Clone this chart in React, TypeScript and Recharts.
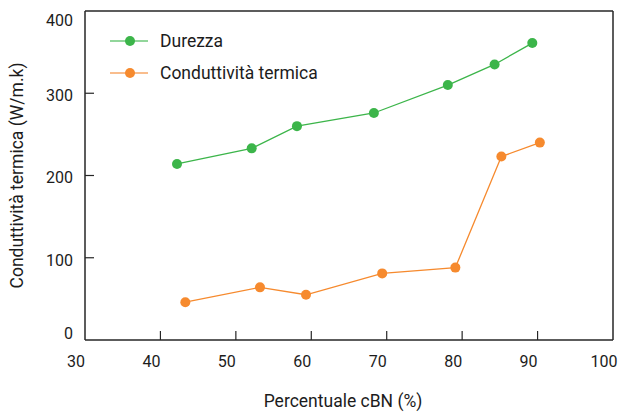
import React from 'react';
import { LineChart, Line, XAxis, YAxis } from 'recharts';

// cBN percentage vs. hardness / thermal conductivity
const xTicks = [30, 40, 50, 60, 70, 80, 90, 100];
const yTicks = [0, 100, 200, 300, 400];
const rightTicks = [1, 2, 3, 4];

const percDurezza = [42.2, 52.1, 58.1, 68.3, 78.1, 84.3, 89.3];
const durezza = [214, 233, 260, 276, 310, 335, 361];

const percConduttivita = [43.3, 53.2, 59.3, 69.4, 79.1, 85.2, 90.3];
const conduttivita = [46, 64, 55, 81, 88, 223, 240];

const GREEN = '#3cb54a';
const ORANGE = '#f68a2e';
const AXIS = '#262626';
const TEXT = '#1c1c1c';
const FONT = 'Roboto, "DejaVu Sans", sans-serif';

const durezzaData = percDurezza.map((x, i) => ({ x, y: durezza[i] }));
const condData = percConduttivita.map((x, i) => ({ x, y: conduttivita[i] }));

const legendItems = [
    { name: 'Durezza', color: GREEN, light: '#92d69b' },
    { name: 'Conduttività termica', color: ORANGE, light: '#f9bd8d' },
];

const BottomTick = (props: any) => {
    const { x, y, payload } = props;
    const v = payload.value;
    return (
        <g>
            {v > 30 && v < 100 && <line x1={x} x2={x} y1={y} y2={y - 9} stroke={AXIS} strokeWidth={1.2} />}
            <text x={x - 9} y={y + 27} textAnchor="middle" fill={TEXT} fontSize={16} fontFamily={FONT}>
                {v}
            </text>
        </g>
    );
};

const LeftTick = (props: any) => {
    const { x, y, payload } = props;
    const v = payload.value;
    let dy = 2;
    if (v === 400) dy = 9;
    if (v === 0) dy = -7;
    return (
        <g>
            {v > 0 && v < 400 && <line x1={x} x2={x + 9} y1={y} y2={y} stroke={AXIS} strokeWidth={1.2} />}
            <text x={x - 12} y={y + dy} dy="0.36em" textAnchor="end" fill={TEXT} fontSize={16} fontFamily={FONT}>
                {v}
            </text>
        </g>
    );
};

const RightTick = (props: any) => {
    const { x, y } = props;
    return <line x1={x} x2={x - 9} y1={y} y2={y} stroke={AXIS} strokeWidth={1.2} />;
};

const LegendBox = () => (
    <div style={{ position: 'absolute', left: 110, top: 25, fontFamily: FONT, fontSize: 17.5, color: TEXT }}>
        {legendItems.map((it) => (
            <div key={it.name} style={{ display: 'flex', alignItems: 'center', height: 32 }}>
                <svg width={38} height={12} style={{ display: 'block' }}>
                    <line x1={0} x2={38} y1={6} y2={6} stroke={it.light} strokeWidth={2} />
                    <circle cx={20} cy={6} r={5} fill={it.color} />
                </svg>
                <span style={{ marginLeft: 12 }}>{it.name}</span>
            </div>
        ))}
    </div>
);

export default function App() {
    return (
        <div style={{ position: 'absolute', left: 0, top: 0, width: 619, height: 412, background: '#fff' }}>
            <LineChart width={619} height={412} margin={{ top: 10, right: 5, left: 0, bottom: 0 }}>
                <XAxis
                    xAxisId="bottom"
                    dataKey="x"
                    type="number"
                    domain={[30, 100]}
                    ticks={xTicks}
                    interval={0}
                    height={72}
                    tickSize={0}
                    tickMargin={0}
                    tickLine={false}
                    axisLine={{ stroke: AXIS, strokeWidth: 1.5 }}
                    tick={<BottomTick />}
                    label={{ value: 'Percentuale cBN (%)', position: 'insideBottom', offset: 5, dx: -6, fill: TEXT, fontSize: 17.5, fontFamily: FONT }}
                />
                <XAxis
                    xAxisId="top"
                    orientation="top"
                    dataKey="x"
                    type="number"
                    domain={[30, 100]}
                    height={1}
                    tick={false}
                    tickLine={false}
                    axisLine={{ stroke: AXIS, strokeWidth: 1.5 }}
                />
                <YAxis
                    yAxisId="left"
                    domain={[0, 400]}
                    ticks={yTicks}
                    interval={0}
                    width={85}
                    tickSize={0}
                    tickMargin={0}
                    tickLine={false}
                    axisLine={{ stroke: AXIS, strokeWidth: 1.5 }}
                    tick={<LeftTick />}
                    label={{
                        value: 'Conduttività termica (W/m.k)',
                        angle: -90,
                        position: 'insideLeft',
                        offset: 17,
                        fill: TEXT,
                        fontSize: 17.5,
                        fontFamily: FONT,
                        style: { textAnchor: 'middle' },
                    }}
                />
                <YAxis
                    yAxisId="right"
                    orientation="right"
                    domain={[0, 5]}
                    ticks={rightTicks}
                    interval={0}
                    width={1}
                    tickSize={0}
                    tickMargin={0}
                    tickLine={false}
                    axisLine={{ stroke: AXIS, strokeWidth: 1.5 }}
                    tick={<RightTick />}
                />
                <Line
                    xAxisId="bottom"
                    yAxisId="left"
                    data={durezzaData}
                    dataKey="y"
                    name="Durezza"
                    stroke={GREEN}
                    strokeWidth={1.3}
                    dot={{ r: 5, fill: GREEN, stroke: GREEN, strokeWidth: 0 }}
                    isAnimationActive={false}
                />
                <Line
                    xAxisId="bottom"
                    yAxisId="left"
                    data={condData}
                    dataKey="y"
                    name="Conduttività termica"
                    stroke={ORANGE}
                    strokeWidth={1.3}
                    dot={{ r: 5, fill: ORANGE, stroke: ORANGE, strokeWidth: 0 }}
                    isAnimationActive={false}
                />
            </LineChart>
            <LegendBox />
        </div>
    );
}
